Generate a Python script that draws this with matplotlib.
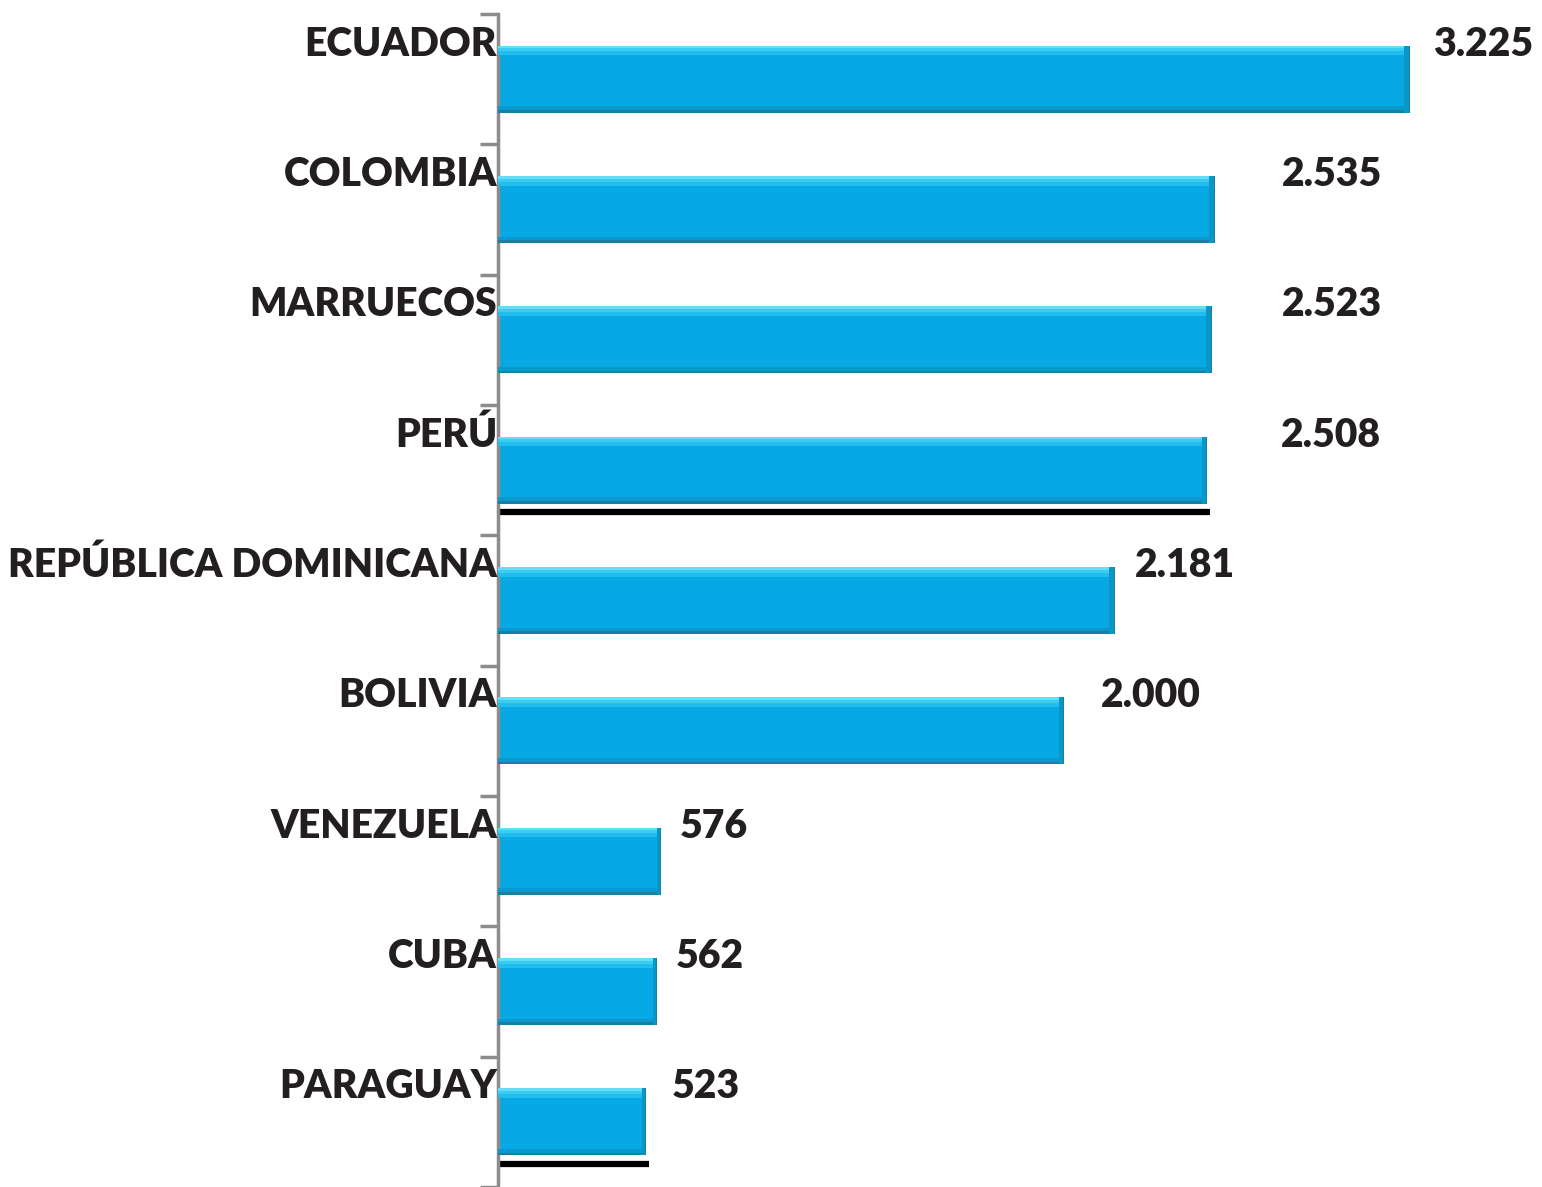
import matplotlib
matplotlib.use("Agg")
import matplotlib.pyplot as plt

# ---- data ----
countries = ["ECUADOR", "COLOMBIA", "MARRUECOS", "PERÚ", "REPÚBLICA DOMINICANA",
             "BOLIVIA", "VENEZUELA", "CUBA", "PARAGUAY"]
values = [3225, 2535, 2523, 2508, 2181, 2000, 576, 562, 523]
value_labels = ["3.225", "2.535", "2.523", "2.508", "2.181", "2.000", "576", "562", "523"]
shadowed = ["PERÚ", "PARAGUAY"]

# ---- styling ----
label_offsets_px = [23, 67, 70, 74, 20, 37, 19, 19, 26]
FONT = "Lato"
TXT = "#231f20"
BAR = "#06a9e4"
BAR_H = 0.515

W, H = 1542, 1187
fig = plt.figure(figsize=(W / 100, H / 100), dpi=100)
ax = fig.add_axes([498 / W, 0.0, 1 - 498 / W, (H - 14) / H])

xmax = (W - 498) / 0.2828
ax.set_xlim(0, xmax)
n = len(countries)
ax.set_ylim(n - 0.5, -0.5)

ys = list(range(n))
ax.barh(ys, values, height=BAR_H, color=BAR, edgecolor="none", zorder=2)
# bevel: top highlight gradient
top = [y - BAR_H / 2 for y in ys]
for frac, h, col in [(0.0, 0.075, "#22bdec"), (0.0, 0.045, "#3acdf2"), (0.0, 0.02, "#66ddf7")]:
    ax.barh([t + h / 2 for t in top], values, height=h, color=col, edgecolor="none", zorder=3)
# bottom darker edge
bot = [y + BAR_H / 2 for y in ys]
for h, col in [(0.05, "#0a98cf"), (0.022, "#17809f")]:
    ax.barh([b - h / 2 for b in bot], values, height=h, color=col, edgecolor="none", zorder=3)
# right end bevel
endw = [v * 0.004 + 10 for v in values]
ax.barh(ys, endw, left=[v - e for v, e in zip(values, endw)],
        height=BAR_H, color="#0b96c8", edgecolor="none", zorder=4)
ax.barh(ys, [3] * n, left=[v - 3 for v in values],
        height=BAR_H, color="#1a7f9e", edgecolor="none", zorder=4)

# shadow lines under some bars
for c, v, y in zip(countries, values, ys):
    if c in shadowed:
        ax.hlines(y + BAR_H / 2 + 0.065, 5, v + 10, colors="black", linewidth=4.5, zorder=1)

# tick marks at slot boundaries
ax.set_yticks([y - 0.5 for y in ys] + [n - 0.5])
ax.set_yticklabels([])
ax.tick_params(axis="y", length=13, width=2.5, color="#8c8c8c", direction="out")
ax.set_xticks([])
for s in ["top", "right", "bottom"]:
    ax.spines[s].set_visible(False)
ax.spines["left"].set_color("#8c8c8c")
ax.spines["left"].set_linewidth(2.5)
ax.patch.set_visible(False)

fs = 28.2
for c, v, lab, y, off in zip(countries, values, value_labels, ys, label_offsets_px):
    ty = y - BAR_H / 2 - 0.012
    ax.annotate(c, xy=(0, ty), xytext=(-1, 0), textcoords="offset pixels",
                ha="right", va="center", fontsize=fs, fontweight="heavy",
                family=FONT, color=TXT, annotation_clip=False)
    ax.annotate(lab, xy=(v, ty), xytext=(off, 0), textcoords="offset pixels",
                ha="left", va="center", fontsize=fs, fontweight="heavy",
                family=FONT, color=TXT, annotation_clip=False)

fig.savefig("out.png", dpi=100)
